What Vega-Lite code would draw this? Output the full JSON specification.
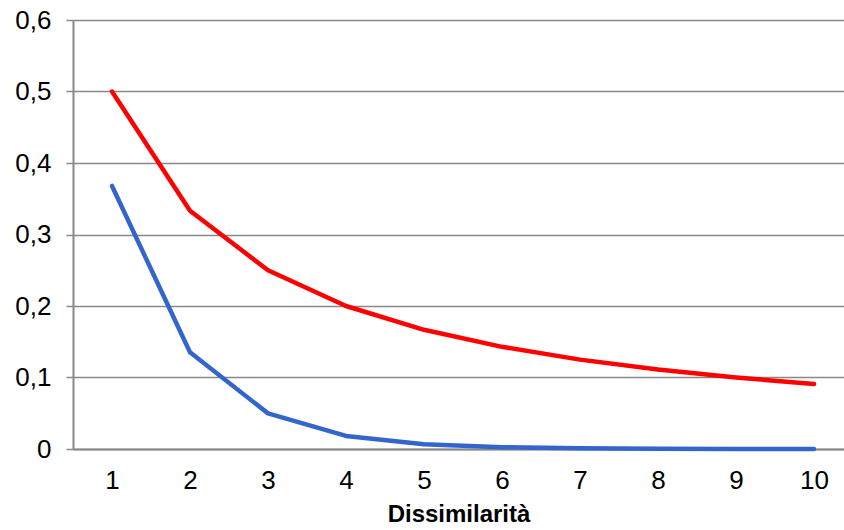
{
  "$schema": "https://vega.github.io/schema/vega-lite/v6.json",
  "autosize": {"type": "none"},
  "width": 771,
  "height": 429,
  "padding": {"left": 73, "top": 20, "right": 0, "bottom": 81},
  "background": "white",
  "config": {
    "view": {"stroke": null},
    "font": "Liberation Sans"
  },
  "data": {
    "values": [
      {"d": 1, "v": 0.5, "s": "inversa"},
      {"d": 2, "v": 0.3333, "s": "inversa"},
      {"d": 3, "v": 0.25, "s": "inversa"},
      {"d": 4, "v": 0.2, "s": "inversa"},
      {"d": 5, "v": 0.1667, "s": "inversa"},
      {"d": 6, "v": 0.1429, "s": "inversa"},
      {"d": 7, "v": 0.125, "s": "inversa"},
      {"d": 8, "v": 0.1111, "s": "inversa"},
      {"d": 9, "v": 0.1, "s": "inversa"},
      {"d": 10, "v": 0.0909, "s": "inversa"},
      {"d": 1, "v": 0.3679, "s": "esponenziale"},
      {"d": 2, "v": 0.1353, "s": "esponenziale"},
      {"d": 3, "v": 0.0498, "s": "esponenziale"},
      {"d": 4, "v": 0.0183, "s": "esponenziale"},
      {"d": 5, "v": 0.0067, "s": "esponenziale"},
      {"d": 6, "v": 0.0025, "s": "esponenziale"},
      {"d": 7, "v": 0.0009, "s": "esponenziale"},
      {"d": 8, "v": 0.0003, "s": "esponenziale"},
      {"d": 9, "v": 0.0001, "s": "esponenziale"},
      {"d": 10, "v": 0.00005, "s": "esponenziale"}
    ]
  },
  "mark": {"type": "line", "strokeWidth": 4.5, "strokeCap": "round", "strokeJoin": "round", "clip": false},
  "encoding": {
    "x": {
      "field": "d",
      "type": "quantitative",
      "scale": {"domain": [0.5, 10.3846], "nice": false, "zero": false},
      "axis": {
        "values": [1, 2, 3, 4, 5, 6, 7, 8, 9, 10],
        "format": "d",
        "grid": false,
        "ticks": false,
        "domainColor": "#888888",
        "domainWidth": 2,
        "labelFontSize": 26,
        "labelColor": "#000000",
        "labelPadding": 18,
        "title": "Dissimilarità",
        "titleFontSize": 24,
        "titleFontWeight": "bold",
        "titleColor": "#000000",
        "titlePadding": 9
      }
    },
    "y": {
      "field": "v",
      "type": "quantitative",
      "scale": {"domain": [0, 0.6], "nice": false},
      "axis": {
        "values": [0, 0.1, 0.2, 0.3, 0.4, 0.5, 0.6],
        "labelExpr": "datum.value == 0 ? '0' : replace(format(datum.value, '.1f'), '.', ',')",
        "grid": true,
        "gridColor": "#888888",
        "gridWidth": 1.5,
        "domainColor": "#888888",
        "domainWidth": 2,
        "tickColor": "#888888",
        "tickSize": 7,
        "tickWidth": 1.5,
        "labelFontSize": 26,
        "labelColor": "#000000",
        "labelPadding": 15,
        "title": null
      }
    },
    "color": {
      "field": "s",
      "type": "nominal",
      "scale": {"domain": ["inversa", "esponenziale"], "range": ["#FF0000", "#3366CC"]},
      "legend": null
    }
  }
}
